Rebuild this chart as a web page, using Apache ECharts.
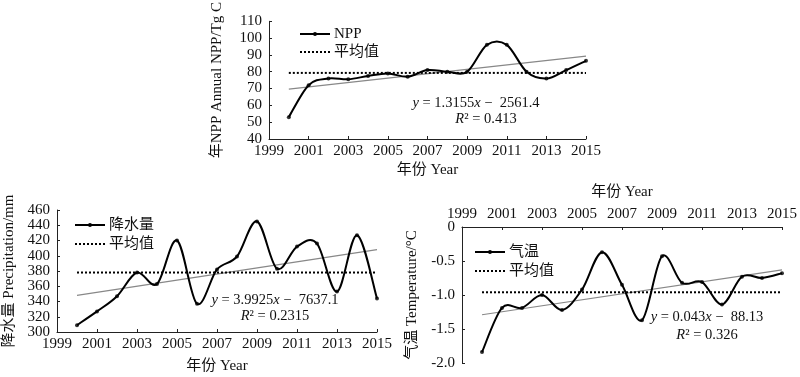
<!DOCTYPE html>
<html><head><meta charset="utf-8">
<script src="https://cdn.jsdelivr.net/npm/echarts@6/dist/echarts.min.js"></script>
<style>html,body{margin:0;padding:0;background:#fff}#c{width:800px;height:377px}</style>
</head><body><div id="c"></div>
<script>
var years = [2000,2001,2002,2003,2004,2005,2006,2007,2008,2009,2010,2011,2012,2013,2014,2015];
var xTicks = [1999,2001,2003,2005,2007,2009,2011,2013,2015];
var nppValues = [53,72,76,75.5,77.5,79,77,81,80,80,96,96,80,76,81,86.5];
var nppMean = 79.3;
var nppTrend = [69.6,89.3];
var precValues = [309,327,347,378,363,420,337,382,399,445,383,412,416,353,427,344];
var precMean = 378;
var precTrend = [348,408];
var tempValues = [-1.84,-1.19,-1.19,-1.00,-1.22,-0.92,-0.37,-0.85,-1.37,-0.43,-0.82,-0.81,-1.14,-0.73,-0.75,-0.68];
var tempMean = -0.96;
var tempTrend = [-1.29,-0.63];
var trendYears = [2000,2015];

function pairs(xs, ys){ return xs.map(function(x,i){return [x, ys[i]];}); }
function flat(v, xs){ return xs.map(function(x){return [x, v];}); }

var FONT = '"Liberation Serif","Noto Sans CJK SC",serif';
var txt = {color:'#111', fontFamily:FONT, fontSize:15};

function xAxis(gi, pos, nameGap){
  return {type:'value', gridIndex:gi, min:1999, max:2015, interval:2, position:pos,
    name:'年份 Year', nameLocation:'middle', nameGap:nameGap, nameTextStyle:txt,
    axisLine:{show:true, onZero:false, lineStyle:{color:'#222', width:1}},
    axisTick:{show:true, inside:true, length:3, lineStyle:{color:'#222'}},
    axisLabel:Object.assign({margin:5, formatter:function(v){return String(v);}}, txt),
    splitLine:{show:false}};
}
function yAxis(gi, min, max, interval, name, nameGap, fmt){
  return {type:'value', gridIndex:gi, min:min, max:max, interval:interval,
    name:name, nameLocation:'middle', nameGap:nameGap, nameTextStyle:txt,
    axisLine:{show:true, onZero:false, lineStyle:{color:'#222', width:1}},
    axisTick:{show:true, inside:true, length:3, lineStyle:{color:'#222'}},
    axisLabel:Object.assign({margin:7, formatter:fmt}, txt),
    splitLine:{show:false}};
}
// smooth curve (Catmull-Rom style bezier segments) drawn through the axes' scales
function curveSeries(gi, data){
  return {type:'custom', xAxisIndex:gi, yAxisIndex:gi, data:data, encode:{x:0, y:1}, z:5, silent:true,
    renderItem:function(params, api){
      var i = params.dataIndex, n = data.length;
      if (i >= n - 1) return {type:'group', children:[]};
      var p = data.map(function(d){ return api.coord(d); });
      var p0 = p[Math.max(i-1,0)], p1 = p[i], p2 = p[i+1], p3 = p[Math.min(i+2,n-1)];
      var k = 1/6;
      return {type:'bezierCurve', shape:{
          x1:p1[0], y1:p1[1], x2:p2[0], y2:p2[1],
          cpx1:p1[0]+(p2[0]-p0[0])*k, cpy1:p1[1]+(p2[1]-p0[1])*k,
          cpx2:p2[0]-(p3[0]-p1[0])*k, cpy2:p2[1]-(p3[1]-p1[1])*k},
        style:{stroke:'#000', lineWidth:2, fill:'none'}};
    }};
}
function dotSeries(gi, data){
  return {type:'scatter', xAxisIndex:gi, yAxisIndex:gi, data:data, symbol:'circle', symbolSize:4,
    itemStyle:{color:'#000'}, z:6, silent:true};
}
function meanSeries(gi, data){
  return {type:'line', xAxisIndex:gi, yAxisIndex:gi, data:data, symbol:'none',
    lineStyle:{color:'#000', width:2, type:[2,2]}, z:3, silent:true};
}
function trendSeries(gi, data){
  return {type:'line', xAxisIndex:gi, yAxisIndex:gi, data:data, symbol:'none',
    lineStyle:{color:'#888', width:1.2}, z:2, silent:true};
}
function legendItems(x, y1, y2, label){
  return [
    {type:'line', shape:{x1:x, y1:y1, x2:x+30, y2:y1}, style:{stroke:'#000', lineWidth:2}},
    {type:'circle', shape:{cx:x+15, cy:y1, r:2}, style:{fill:'#000'}},
    {type:'text', x:x+34, y:y1, style:{text:label, font:'15px '+FONT, fill:'#111', verticalAlign:'middle'}},
    {type:'line', shape:{x1:x, y1:y2, x2:x+30, y2:y2}, style:{stroke:'#000', lineWidth:2, lineDash:[2,2]}},
    {type:'text', x:x+34, y:y2, style:{text:'平均值', font:'15px '+FONT, fill:'#111', verticalAlign:'middle'}}
  ];
}
var rich = {i:{fontStyle:'italic', fontFamily:FONT, fontSize:14.5, fill:'#111'}, n:{fontFamily:FONT, fontSize:14.5, fill:'#111'}};
function eq(x, y, text){
  return {type:'text', x:x, y:y, style:{text:text, align:'center', verticalAlign:'middle', rich:rich}};
}

var option = {
  backgroundColor:'#fff',
  animation:false,
  grid:[
    {left:269, top:14, width:317, height:125},
    {left:57, top:210, width:320, height:122},
    {left:462, top:227, width:320, height:136}
  ],
  xAxis:[ xAxis(0,'bottom',24), xAxis(1,'bottom',27), xAxis(2,'top',27) ],
  yAxis:[
    yAxis(0,40,110,10,'年NPP Annual NPP/Tg C',44,function(v){return String(v);}),
    yAxis(1,300,460,20,'降水量 Precipitation/mm',40,function(v){return String(v);}),
    yAxis(2,-2,0,0.5,'气温 Temperature/°C',42,function(v){return v===0?'0':v.toFixed(1);})
  ],
  series:[
    trendSeries(0, pairs(trendYears, nppTrend)),
    meanSeries(0, flat(nppMean, trendYears)),
    curveSeries(0, pairs(years, nppValues)),
    dotSeries(0, pairs(years, nppValues)),
    trendSeries(1, pairs(trendYears, precTrend)),
    meanSeries(1, flat(precMean, trendYears)),
    curveSeries(1, pairs(years, precValues)),
    dotSeries(1, pairs(years, precValues)),
    trendSeries(2, pairs(trendYears, tempTrend)),
    meanSeries(2, flat(tempMean, trendYears)),
    curveSeries(2, pairs(years, tempValues)),
    dotSeries(2, pairs(years, tempValues))
  ],
  graphic:[].concat(
    legendItems(300, 34, 52, 'NPP'),
    legendItems(75, 225, 244, '降水量'),
    legendItems(475, 252, 271, '气温'),
    [
      eq(476, 103, '{i|y}{n| = 1.3155}{i|x}{n| −  2561.4}'),
      eq(486, 119, '{i|R}{n|² = 0.413}'),
      eq(275, 300, '{i|y}{n| = 3.9925}{i|x}{n| −  7637.1}'),
      eq(275, 316, '{i|R}{n|² = 0.2315}'),
      eq(707, 317, '{i|y}{n| = 0.043}{i|x}{n| −  88.13}'),
      eq(707, 335, '{i|R}{n|² = 0.326}')
    ])
};
var chart = echarts.init(document.getElementById('c'), null, {renderer:'canvas'});
chart.setOption(option);
</script></body></html>
